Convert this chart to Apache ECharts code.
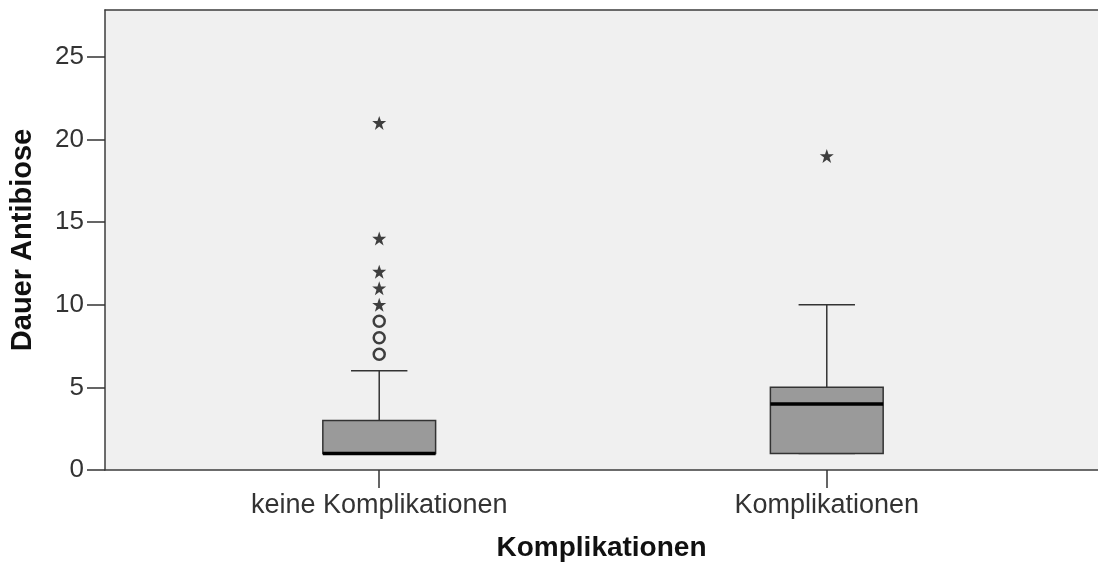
<!DOCTYPE html>
<html>
<head>
<meta charset="utf-8">
<script src="https://cdn.jsdelivr.net/npm/echarts@6/dist/echarts.min.js"></script>
<style>
html,body{margin:0;padding:0;background:#fff;}
#chart{width:1098px;height:567px;}
</style>
</head>
<body>
<div id="chart"></div>
<script>
// ---- data ----
const categories = ['keine Komplikationen', 'Komplikationen'];
const lowWhisker = [1, 1];
const q1 = [1, 1];
const median = [1, 4];
const q3 = [3, 5];
const highWhisker = [6, 10];
const outlierCircles = [[7, 8, 9], []];
const extremeStars = [[10, 11, 12, 14, 21], [19]];
const yTicks = [0, 5, 10, 15, 20, 25];
const xTitle = 'Komplikationen';
const yTitle = 'Dauer Antibiose';

const FONT = 'Liberation Sans, Arial, sans-serif';
const STAR = 'path://M50,0 L62.5,35 L100,35 L69.5,57.5 L81,94 L50,72 L19,94 L30.5,57.5 L0,35 L37.5,35 Z';

const boxRows = categories.map((c, i) => [i, lowWhisker[i], q1[i], median[i], q3[i], highWhisker[i]]);
const circleData = [];
outlierCircles.forEach((arr, i) => arr.forEach(v => circleData.push([i, v])));
const starData = [];
extremeStars.forEach((arr, i) => arr.forEach(v => starData.push([i, v])));

const BOX_W = 0.252;   // in category units
const CAP_W = 0.126;

const chart = echarts.init(document.getElementById('chart'), null, {renderer: 'canvas'});
chart.setOption({
  animation: false,
  backgroundColor: '#ffffff',
  grid: {
    left: 104, right: 0, top: 10, bottom: 95,
    show: true, backgroundColor: '#f0f0f0', borderWidth: 0
  },
  xAxis: [{
    type: 'value',
    min: -0.6127, max: 1.606,
    splitLine: {show: false},
    axisLine: {show: true, onZero: false, lineStyle: {color: '#3c3c3c', width: 1.5}},
    axisTick: {show: true, length: 18, customValues: categories.map((c, i) => i), lineStyle: {color: '#333', width: 1.5}},
    axisLabel: {
      customValues: categories.map((c, i) => i),
      formatter: v => categories[Math.round(v)] || '',
      margin: 22, fontFamily: FONT, fontSize: 27, color: '#333'
    },
    name: xTitle, nameLocation: 'middle', nameGap: 64,
    nameTextStyle: {fontFamily: FONT, fontSize: 28, fontWeight: 'bold', color: '#111'}
  }, {
    type: 'value', position: 'top',
    min: -0.6127, max: 1.606,
    splitLine: {show: false},
    axisLine: {show: true, onZero: false, lineStyle: {color: '#3c3c3c', width: 1.5}},
    axisTick: {show: false}, axisLabel: {show: false}
  }],
  yAxis: {
    type: 'value',
    min: 0, max: 27.83,
    splitLine: {show: false},
    axisLine: {show: true, onZero: false, lineStyle: {color: '#3c3c3c', width: 1.5}},
    axisTick: {show: true, length: 18, customValues: yTicks, lineStyle: {color: '#333', width: 1.5}},
    axisLabel: {customValues: yTicks, margin: 21, fontFamily: FONT, fontSize: 26, color: '#333'},
    name: yTitle, nameLocation: 'middle', nameGap: 68,
    nameTextStyle: {fontFamily: FONT, fontSize: 29, fontWeight: 'bold', color: '#111'}
  },
  series: [
    {
      type: 'custom',
      data: boxRows,
      encode: {x: 0, y: [1, 2, 3, 4, 5]},
      clip: false,
      renderItem: function (params, api) {
        const x = api.value(0);
        const pLo = api.coord([x, api.value(1)]);
        const pQ1 = api.coord([x, api.value(2)]);
        const pMed = api.coord([x, api.value(3)]);
        const pQ3 = api.coord([x, api.value(4)]);
        const pHi = api.coord([x, api.value(5)]);
        const hb = api.size([BOX_W, 0])[0] / 2;
        const hc = api.size([CAP_W, 0])[0] / 2;
        const cx = pMed[0];
        const ls = {stroke: '#333', lineWidth: 1.5};
        return {
          type: 'group',
          children: [
            {type: 'line', shape: {x1: cx, y1: pQ3[1], x2: cx, y2: pHi[1]}, style: ls},
            {type: 'line', shape: {x1: cx - hc, y1: pHi[1], x2: cx + hc, y2: pHi[1]}, style: ls},
            {type: 'line', shape: {x1: cx, y1: pQ1[1], x2: cx, y2: pLo[1]}, style: ls},
            {type: 'line', shape: {x1: cx - hc, y1: pLo[1], x2: cx + hc, y2: pLo[1]}, style: {stroke: '#666', lineWidth: 1.5}},
            {type: 'rect', shape: {x: cx - hb, y: pQ3[1], width: 2 * hb, height: pQ1[1] - pQ3[1]},
              style: {fill: '#9a9a9a', stroke: '#333', lineWidth: 1.5}},
            {type: 'line', shape: {x1: cx - hb, y1: pMed[1], x2: cx + hb, y2: pMed[1]}, style: {stroke: '#000', lineWidth: 3.5}}
          ]
        };
      }
    },
    {
      type: 'scatter',
      data: circleData,
      symbol: 'circle',
      symbolSize: 11,
      itemStyle: {color: 'transparent', borderColor: '#111', borderWidth: 2.5}
    },
    {
      type: 'scatter',
      data: starData,
      symbol: STAR,
      symbolSize: 14,
      itemStyle: {color: '#111'}
    }
  ]
});
</script>
</body>
</html>
